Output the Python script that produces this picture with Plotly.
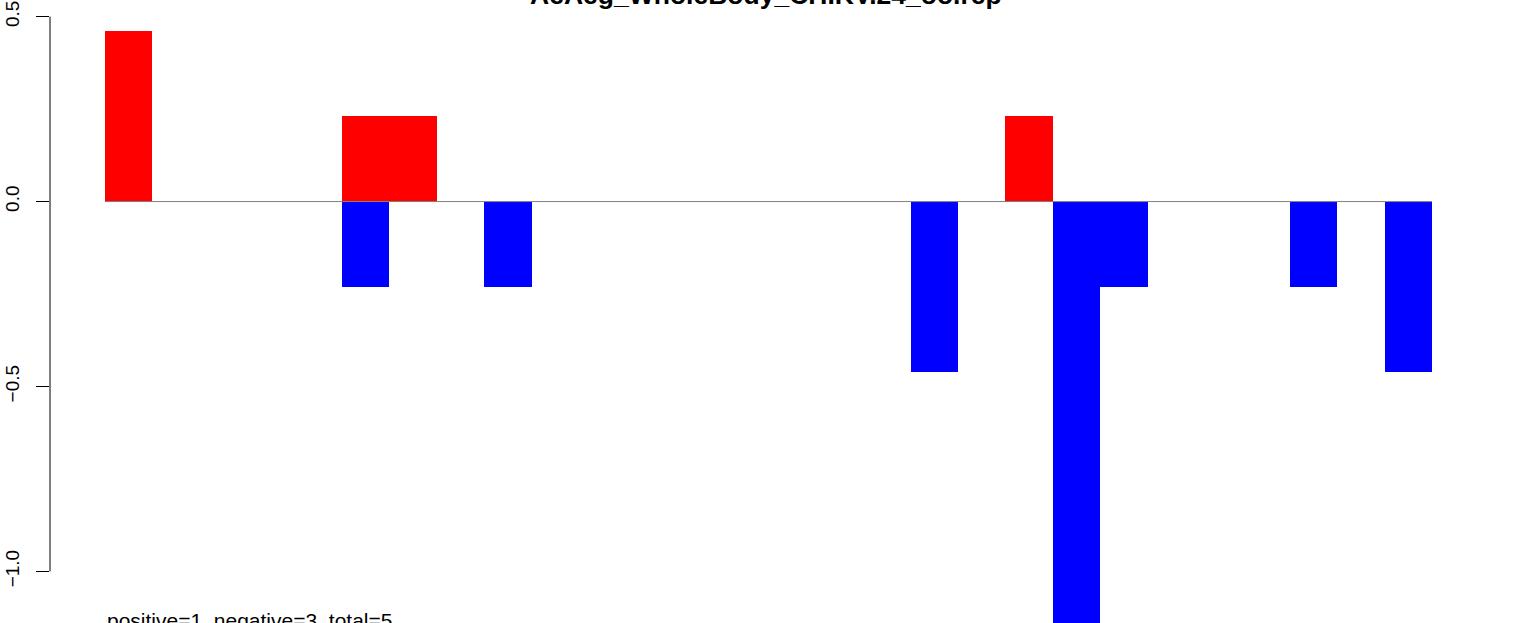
import plotly.graph_objects as go

slots = list(range(28))
positive = [0.4615, 0, 0, 0, 0, 0.2308, 0.2308, 0, 0, 0, 0, 0, 0, 0, 0, 0, 0, 0, 0, 0.2308, 0, 0, 0, 0, 0, 0, 0, 0]
negative = [0, 0, 0, 0, 0, -0.2308, 0, 0, -0.2308, 0, 0, 0, 0, 0, 0, 0, 0, -0.4615, 0, 0, -1.3846, -0.2308, 0, 0, 0, -0.2308, 0, -0.4615]
ytick_vals = [-1.0, -0.5, 0.0, 0.5]
ytick_text = ["\u22121.0", "\u22120.5", "0.0", "0.5"]
title_text = "AeAeg_WholeBody_CHIKV.24_oo.rep"
footer_text = "positive=1, negative=3, total=5"

fig = go.Figure()
fig.add_trace(go.Bar(x=slots, y=positive, marker=dict(color="#FF0000", line=dict(width=0)), width=1.0))
fig.add_trace(go.Bar(x=slots, y=negative, marker=dict(color="#0000FF", line=dict(width=0)), width=1.0))

fig.update_layout(
    barmode="relative",
    bargap=0,
    width=1536, height=623,
    margin=dict(l=50, r=0, t=0, b=0),
    plot_bgcolor="white", paper_bgcolor="white",
    showlegend=False,
    font=dict(family="Liberation Sans, Arial, Helvetica, sans-serif", color="black"),
    xaxis=dict(range=[-1.6606, 29.696], showgrid=False, zeroline=False, showticklabels=False, ticks="", showline=False),
    yaxis=dict(range=[-1.1395, 0.545], showgrid=False, zeroline=False, showline=False,
               tickmode="array", tickvals=ytick_vals, ticktext=ytick_text,
               ticks="outside", ticklen=13, tickwidth=1, tickcolor="black",
               tickangle=-90, tickfont=dict(size=19, color="black"), ticklabelstandoff=9),
    shapes=[
        dict(type="line", xref="x", yref="y", x0=-0.5, x1=27.5, y0=0, y1=0,
             line=dict(color="#808080", width=1), layer="above"),
        dict(type="line", xref="paper", yref="y", x0=0, x1=0, y0=-1.0, y1=0.5,
             line=dict(color="black", width=1)),
    ],
    annotations=[
        dict(text="<b>" + title_text + "</b>", xref="paper", yref="paper", x=(766 - 50) / (1536 - 50), y=1,
             xanchor="center", yanchor="middle", yshift=5, showarrow=False,
             font=dict(size=26.5, color="black")),
        dict(text=footer_text, xref="x", yref="paper", x=-0.5, y=0, xanchor="left", yanchor="middle",
             yshift=3, showarrow=False, font=dict(size=21, color="black")),
    ],
)

fig.write_html("out.html", config={"displayModeBar": False},
               post_script="document.body.style.margin='0';document.body.style.overflow='hidden';")
